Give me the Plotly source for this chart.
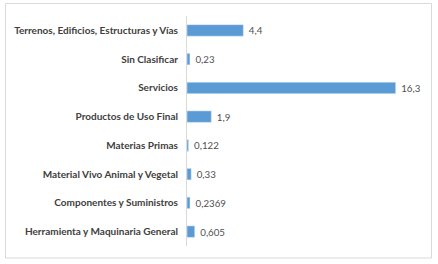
import plotly.graph_objects as go

categories = [
    "Herramienta y Maquinaria General",
    "Componentes y Suministros",
    "Material Vivo Animal y Vegetal",
    "Materias Primas",
    "Productos de Uso Final",
    "Servicios",
    "Sin Clasificar",
    "Terrenos, Edificios, Estructuras y Vías",
]
values = [0.605, 0.2369, 0.33, 0.122, 1.9, 16.3, 0.23, 4.4]
labels = [" " + str(v).replace(".", ",") for v in values]

W, H = 438, 264
L, R, T, B = 187, 18, 16, 18
pw = W - L - R
ph = H - T - B

fig = go.Figure(go.Bar(
    y=categories, x=values, orientation="h",
    marker=dict(color="#5B9BD5"),
    width=0.4,
    text=labels, textposition="outside", cliponaxis=False,
    textfont=dict(family="Lato", size=11, color="#505050"),
))

def px_to_paper_x(px):
    return (px - L) / pw

def px_to_paper_y(py):
    return 1 - (py - T) / ph

fig.add_shape(type="rect", xref="paper", yref="paper",
              x0=px_to_paper_x(5.5), x1=px_to_paper_x(431.5),
              y0=px_to_paper_y(258), y1=px_to_paper_y(3.5),
              line=dict(color="#d9d9d9", width=1), fillcolor="rgba(0,0,0,0)", layer="below")

fig.update_layout(
    width=W, height=H,
    margin=dict(l=L, r=R, t=T, b=B, pad=0, autoexpand=False),
    paper_bgcolor="white", plot_bgcolor="white",
    showlegend=False,
    xaxis=dict(range=[0, 18.2], showgrid=False, zeroline=False, showticklabels=False,
               showline=False, fixedrange=True, automargin=False),
    yaxis=dict(showgrid=False, zeroline=False, showline=True, linecolor="#d9d9d9", linewidth=1,
               ticks="", tickfont=dict(family="Lato", size=10, color="#404040", weight="bold"),
               ticklabelstandoff=6, fixedrange=True, automargin=False),
    font=dict(family="Lato"),
)

fig.write_html("out.html")
